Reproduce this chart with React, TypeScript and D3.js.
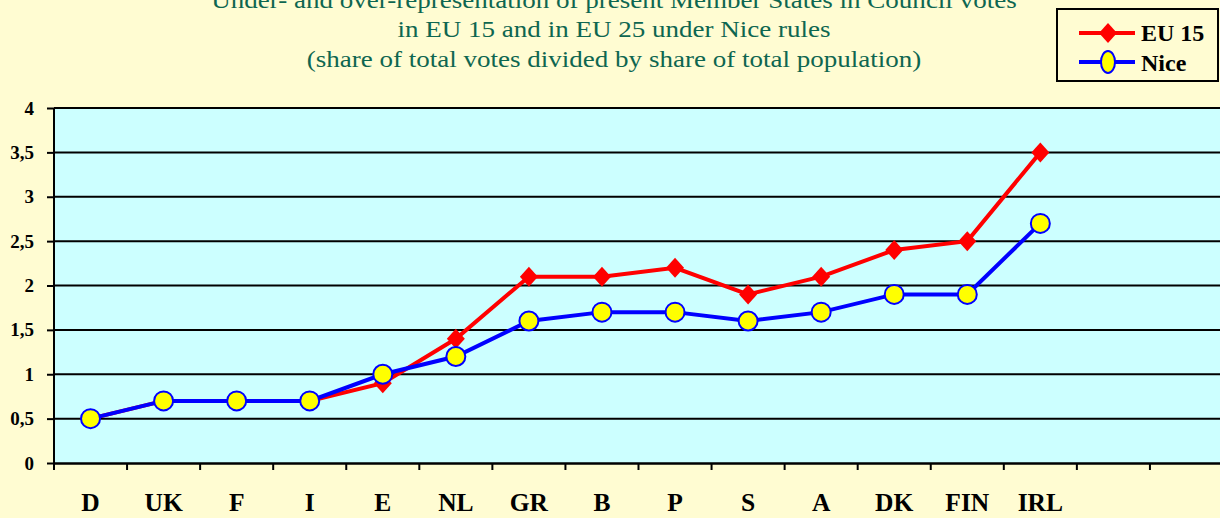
import React, { useRef, useEffect } from 'react';
import * as d3 from 'd3';

const countries = ['D', 'UK', 'F', 'I', 'E', 'NL', 'GR', 'B', 'P', 'S', 'A', 'DK', 'FIN', 'IRL', '', ' '];
const eu15 = [0.5, 0.7, 0.7, 0.7, 0.9, 1.4, 2.1, 2.1, 2.2, 1.9, 2.1, 2.4, 2.5, 3.5];
const nice = [0.5, 0.7, 0.7, 0.7, 1.0, 1.2, 1.6, 1.7, 1.7, 1.6, 1.7, 1.9, 1.9, 2.7];
const yTicks = [0, 0.5, 1, 1.5, 2, 2.5, 3, 3.5, 4];
const titleLines = [
  'Under- and over-representation of present Member States in Council votes',
  'in EU 15 and in EU 25 under Nice rules',
  '(share of total votes divided by share of total population)',
];

const W = 1220;
const H = 518;
const FONT = "'Liberation Serif', 'Times New Roman', serif";

const Chart = () => {
  const svgRef = useRef<SVGSVGElement>(null);

  useEffect(() => {
    const svg = d3.select(svgRef.current).attr('width', W).attr('height', H).html('');
    const left = 54, right = 1223, top = 108, bottom = 463;

    const x = d3.scaleBand().domain(countries).range([left, right]);
    const y = d3.scaleLinear().domain([0, 4]).range([bottom, top]);
    const fmt = (v: number) => String(v).replace('.', ',');

    // background
    svg.append('rect').attr('width', W).attr('height', H).attr('fill', '#FFFCD2');
    svg.append('rect')
      .attr('x', left).attr('y', top)
      .attr('width', right - left).attr('height', bottom - top)
      .attr('fill', '#CCFFFF');

    // title (slightly wide face, as in the original)
    svg.append('g')
      .attr('transform', 'translate(614,0) scale(1.15,1)')
      .selectAll('text')
      .data(titleLines)
      .enter()
      .append('text')
        .attr('x', 0)
        .attr('y', (d, i) => 8 + i * 29.5)
        .attr('text-anchor', 'middle')
        .attr('font-family', FONT)
        .attr('font-size', 23.5)
        .attr('fill', '#0E6650')
        .text(d => d);

    // grid
    svg.append('g').selectAll('line')
      .data(yTicks.filter(t => t > 0))
      .enter()
      .append('line')
        .attr('x1', left).attr('x2', right)
        .attr('y1', d => y(d)).attr('y2', d => y(d))
        .attr('stroke', '#000').attr('stroke-width', 2);

    // y axis
    const yAxis = svg.append('g')
      .attr('transform', `translate(${left},0)`)
      .call(d3.axisLeft(y).tickValues(yTicks).tickSize(7).tickPadding(13).tickFormat(d => fmt(d as number)));
    yAxis.select('.domain').attr('stroke-width', 2).attr('d', `M0,${top}V${bottom}`);
    yAxis.selectAll('.tick line').attr('stroke-width', 2);
    yAxis.selectAll('text')
      .attr('font-family', FONT)
      .attr('font-size', 19).attr('font-weight', 'bold').attr('fill', '#000');

    // x axis
    const xAxis = svg.append('g')
      .attr('transform', `translate(0,${bottom})`)
      .call(d3.axisBottom(x).tickSize(0).tickPadding(30));
    xAxis.select('.domain').attr('stroke-width', 2.5);
    xAxis.selectAll('text')
      .attr('dy', null)
      .attr('y', 48)
      .attr('font-family', FONT)
      .attr('font-size', 25.5).attr('font-weight', 'bold').attr('fill', '#000');
    svg.append('g').selectAll('line')
      .data(countries)
      .enter()
      .append('line')
        .attr('x1', d => x(d)!).attr('x2', d => x(d)!)
        .attr('y1', bottom).attr('y2', bottom + 7)
        .attr('stroke', '#000').attr('stroke-width', 2);

    const cx = (i: number) => x(countries[i])! + x.bandwidth() / 2;
    const line = d3.line<number>().x((d, i) => cx(i)).y(d => y(d));

    // EU 15
    svg.append('path').datum(eu15)
      .attr('d', line).attr('fill', 'none')
      .attr('stroke', '#FF0000').attr('stroke-width', 4);
    const diamond = 'M0,-10L9,0L0,10L-9,0Z';
    svg.append('g').selectAll('path')
      .data(eu15)
      .enter()
      .append('path')
        .attr('d', diamond)
        .attr('transform', (d, i) => `translate(${cx(i)},${y(d)})`)
        .attr('fill', '#FF0000');

    // Nice
    svg.append('path').datum(nice)
      .attr('d', line).attr('fill', 'none')
      .attr('stroke', '#0000FF').attr('stroke-width', 4);
    svg.append('g').selectAll('circle')
      .data(nice)
      .enter()
      .append('circle')
        .attr('cx', (d, i) => cx(i)).attr('cy', d => y(d))
        .attr('r', 9.5)
        .attr('fill', '#FFFF00').attr('stroke', '#0000FF').attr('stroke-width', 2);

    // legend
    const lg = svg.append('g');
    lg.append('rect')
      .attr('x', 1057).attr('y', 9).attr('width', 161).attr('height', 72)
      .attr('fill', '#FFFCD2').attr('stroke', '#000').attr('stroke-width', 2);
    lg.append('line').attr('x1', 1079).attr('x2', 1135).attr('y1', 33).attr('y2', 33)
      .attr('stroke', '#FF0000').attr('stroke-width', 4);
    lg.append('path').attr('d', diamond).attr('transform', 'translate(1108,33)').attr('fill', '#FF0000');
    lg.append('line').attr('x1', 1079).attr('x2', 1135).attr('y1', 62).attr('y2', 62)
      .attr('stroke', '#0000FF').attr('stroke-width', 4);
    lg.append('ellipse').attr('cx', 1108).attr('cy', 62).attr('rx', 7).attr('ry', 11)
      .attr('fill', '#FFFF00').attr('stroke', '#0000FF').attr('stroke-width', 2);
    lg.selectAll('text')
      .data(['EU 15', 'Nice'])
      .enter()
      .append('text')
        .attr('x', 1141)
        .attr('y', (d, i) => 41 + i * 30)
        .attr('font-family', FONT)
        .attr('font-size', 24).attr('font-weight', 'bold').attr('fill', '#000')
        .text(d => d);
  }, []);

  return <svg ref={svgRef} style={{ position: 'absolute', left: 0, top: 0, display: 'block' }} />;
};

export default function App() {
  return <Chart />;
}
